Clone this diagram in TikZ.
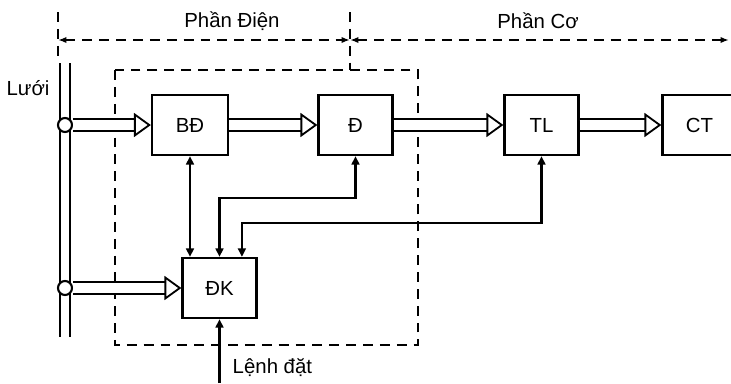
\documentclass[tikz,border=0pt]{standalone}
\usepackage{fontspec}
\setmainfont{Liberation Sans}
\usetikzlibrary{arrows.meta}

\begin{document}
\begin{tikzpicture}[
  x=0.025cm, y=-0.025cm, line width=1.5pt,
  block/.style={draw, line width=1.6pt, minimum width=1.85cm, minimum height=1.5cm, font=\fontsize{14.5}{16}\selectfont},
  label/.style={font=\fontsize{14.5}{16}\selectfont},
  frame/.style={dash pattern=on 7pt off 5pt},
  dim/.style={frame, {Latex[length=6pt,width=4.5pt]}-{Latex[length=6pt,width=4.5pt]}},
  power/.style={double, double distance=7.5pt, line width=1.3pt, -{Triangle[open, length=12pt, width=17pt]}},
  ctrl/.style={{Triangle[length=6pt,width=5.5pt]}-{Triangle[length=6pt,width=5.5pt]}},
  tap/.style={circle, draw, fill=white, line width=1.5pt, inner sep=0pt, minimum size=0.35cm}
]
\useasboundingbox (0,0) rectangle (731,383);

% phan dien / phan co
\draw[frame] (58,12) -- (58,58);
\draw[frame] (350,12) -- (350,70);
\coordinate (eL) at (58,40);
\coordinate (eM) at (350,40);
\coordinate (eR) at (729,40);
\draw[dim] (eL) -- (eM);
\draw[dim] (eM) -- (eR);
\node[label] (dien) at (232,21) {Phần Điện};
\node[label] (co) at (538,21) {Phần Cơ};

% dashed box
\draw[frame] (115,70) rectangle (418,345);

% luoi
\node[label] (luoi) at (28,88) {Lưới};
\draw (60,63) -- (60,337);
\draw (70,63) -- (70,337);
\node[tap] (t1) at (65,125) {};
\node[tap] (t2) at (65,288) {};

% blocks
\node[block, minimum width=1.9cm] (bd) at (190,125) {BĐ};
\node[block] (d) at (355.5,125) {Đ};
\node[block] (tl) at (541.5,125) {TL};
\node[block] (ct) at (699.5,125) {CT};
\node[block] (dk) at (219.5,288) {ĐK};

% power flow
\draw[power] (t1) -- (bd);
\draw[power] (bd) -- (d);
\draw[power] (d) -- (tl);
\draw[power] (tl) -- (ct);
\draw[power] (t2) -- (dk);

% control
\draw[ctrl] (bd.south) -- (bd.south |- dk.north);
\draw[ctrl] (d.south) -- ++(0,42) -| (dk.north);
\draw[ctrl] (tl.south) -- ++(0,67) -| ([xshift=0.56cm]dk.north);
\coordinate (cmd) at (218,383);
\draw[-{Triangle[length=6pt,width=5.5pt]}] (dk.south |- cmd) -- (dk.south);
\node[label, anchor=west] (lenh) at (227,368) {Lệnh đặt};
\end{tikzpicture}
\end{document}
